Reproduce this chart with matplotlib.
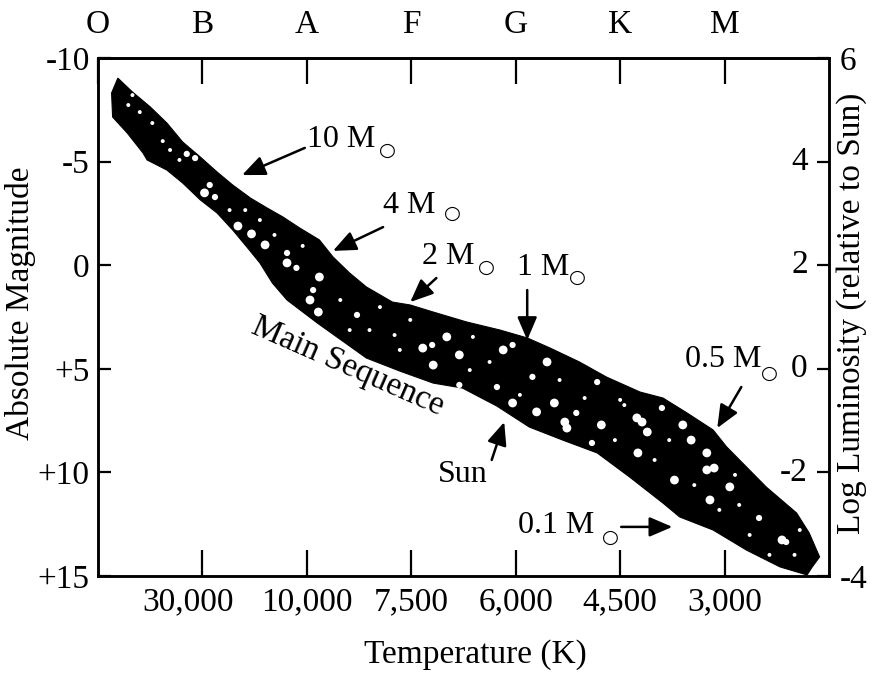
import matplotlib
matplotlib.use("Agg")
import matplotlib.pyplot as plt
from matplotlib.transforms import blended_transform_factory, ScaledTranslation

plt.rcParams['font.family'] = ['Liberation Serif', 'DejaVu Serif']

# ---------------- data ----------------
spectral_classes = ['O', 'B', 'A', 'F', 'G', 'K', 'M']
temp_labels = ['30,000', '10,000', '7,500', '6,000', '4,500', '3,000']
mag_ticks = [-10, -5, 0, 5, 10, 15]
mag_labels = ['-10', '-5', '0', '+5', '+10', '+15']
lum_ticks = [6, 4, 2, 0, -2, -4]

# main sequence band: upper edge (left -> right), then lower edge (right -> left)
upper_x = [0.19, 0.33, 0.50, 0.66, 0.81, 0.98, 1.14, 1.29, 1.46, 1.62, 1.77, 1.93,
           2.12, 2.25, 2.41, 2.57, 2.82, 2.99, 3.21, 3.53, 3.85, 4.11, 4.33, 4.61,
           4.87, 5.19, 5.41, 5.64, 5.89, 6.02, 6.21, 6.40, 6.69, 6.81, 6.91, 6.84, 6.79]
upper_mag = [-9.03, -8.36, -7.64, -6.86, -5.95, -5.22, -4.50, -3.87, -3.24, -2.76, -2.33, -1.80,
             -1.22, -0.40, 0.38, 1.05, 1.78, 1.92, 2.26, 2.74, 3.13, 3.51, 4.00, 4.67,
             5.40, 6.12, 6.41, 7.13, 7.95, 8.77, 9.74, 10.71, 11.96, 12.92, 14.08, 14.56, 14.95]
lower_x = [6.53, 6.21, 5.89, 5.57, 5.41, 5.09, 4.78, 4.45, 4.13, 3.82, 3.49, 3.21,
           2.89, 2.57, 2.10, 1.81, 1.67, 1.55, 1.45, 1.29, 1.14, 0.98, 0.81, 0.66,
           0.47, 0.43, 0.28, 0.14, 0.13]
lower_mag = [14.56, 13.75, 12.78, 12.15, 11.48, 10.22, 9.06, 8.44, 7.81, 6.80, 5.93, 5.69,
             5.11, 4.48, 2.79, 1.68, 0.86, -0.11, -0.73, -1.70, -2.52, -3.15, -3.97, -4.59,
             -5.08, -5.42, -6.38, -7.15, -8.31]

# individual stars (white dots) inside the band
star_x = [0.40, 0.52, 0.33, 0.62, 0.85, 0.93, 1.07, 1.02, 1.12, 1.34, 1.47, 1.60, 1.81, 1.81,
          1.96, 1.90, 2.12, 2.06, 2.03, 2.11, 2.48, 2.70, 3.34, 3.11, 3.20, 3.21, 3.46, 3.59,
          3.88, 3.97, 4.16, 3.97, 4.20, 3.46, 3.82, 4.30, 4.37, 4.58, 4.47, 4.49, 4.82, 4.73,
          4.78, 5.16, 5.21, 5.26, 5.17, 5.40, 5.60, 5.68, 5.83, 5.52, 5.83, 5.90, 6.05, 5.86,
          6.33, 6.55, 6.59, 6.72,
          0.29, 0.69, 1.26, 1.69, 2.32, 2.60, 2.84, 2.99, 3.56, 3.75, 4.04, 4.42, 4.66, 4.95,
          5.04, 5.33, 5.47, 5.71, 5.95, 6.14, 6.24, 6.43, 6.67, 6.10, 5.00, 2.89, 2.41, 1.55,
          0.78, 1.41]
star_mag = [-7.39, -6.86, -8.21, -5.99, -5.37, -5.17, -3.87, -3.49, -3.29, -1.89, -1.51, -0.98,
            -0.59, -0.11, -0.93, 0.13, 0.57, 1.20, 1.68, 2.26, 2.40, 2.02, 3.46, 4.00, 3.85,
            4.82, 4.33, 3.46, 4.09, 3.85, 5.39, 6.65, 7.08, 5.78, 5.88, 4.67, 6.65, 7.13, 7.57,
            7.86, 7.71, 8.58, 5.64, 7.37, 7.57, 8.05, 9.06, 6.89, 7.71, 8.44, 9.06, 10.37, 9.88,
            9.79, 10.70, 11.33, 12.20, 13.26, 13.36, 12.78,
            -7.73, -5.56, -2.66, -1.46, 1.68, 3.13, 3.37, 2.64, 5.06, 4.67, 6.26, 5.54, 6.41,
            8.44, 6.75, 9.40, 8.44, 10.61, 11.81, 11.57, 13.02, 13.98, 13.98, 10.12, 6.50, 4.09,
            3.13, -2.18, -5.08, -2.66]
star_size = [8, 8, 8, 8, 20, 20, 20, 40, 20, 40, 40, 40, 20, 40,
             8, 20, 40, 20, 40, 40, 20, 8, 40, 40, 20, 40, 40, 8,
             40, 20, 20, 40, 40, 20, 20, 40, 40, 20, 40, 40, 40, 20,
             20, 40, 40, 40, 40, 20, 40, 40, 40, 40, 40, 40, 40, 40,
             20, 40, 20, 8,
             8, 8, 8, 8, 8, 8, 8, 8, 8, 8, 8, 8, 8, 8,
             8, 8, 8, 8, 8, 8, 8, 8, 8, 8, 8, 8, 8, 8,
             8, 8]

# mass annotations
mass_labels = ['10 M', '4 M', '2 M', '1 M', '0.5 M', '0.1 M']
mass_text_x = [2.00, 2.73, 3.10, 4.01, 5.62, 4.02]
mass_text_mag = [-6.09, -2.86, -0.44, 0.09, 4.57, 12.54]
mass_sym_x = [2.77, 3.39, 3.72, 4.59, 6.43, 4.91]
mass_sym_mag = [-5.56, -2.52, 0.13, 0.57, 5.20, 13.16]
arrow_from_x = [1.98, 2.73, 3.24, 4.11, 6.16, 5.01]
arrow_from_mag = [-5.66, -1.84, 0.62, 1.20, 5.88, 12.63]
arrow_to_x = [1.38, 2.25, 2.99, 4.11, 5.93, 5.50]
arrow_to_mag = [-4.35, -0.69, 1.78, 3.61, 7.86, 12.63]

sun_text = (3.25, 10.08)
sun_arrow_from = (3.77, 9.40)
sun_arrow_to = (3.89, 7.57)

ms_label_pos = (2.36, 5.25)
ms_label_angle = -23.6

FS = 24      # axis / tick text
FA = 23      # annotation text

# ---------------- figure ----------------
fig = plt.figure(figsize=(8.75, 6.75), dpi=100)
ax = fig.add_axes([98 / 875, 1 - 576 / 675, 731 / 875, 518 / 675])
ax.set_xlim(0, 7)
ax.set_ylim(15, -10)

band_x = upper_x + lower_x
band_y = upper_mag + lower_mag
ax.fill(band_x, band_y, color='black', lw=0.8, zorder=2)
ax.scatter(star_x, star_mag, s=star_size, color='white', edgecolors='none', zorder=3)

# bottom temperature ticks
ax.set_xticks(range(1, 7))
ax.set_xticklabels(temp_labels)
ax.tick_params(axis='x', direction='in', length=19, width=1.6, labelsize=FS, pad=8)
first = ax.get_xticklabels()[0]
first.set_transform(first.get_transform() + ScaledTranslation(-0.14, 0, fig.dpi_scale_trans))

# left magnitude ticks
ax.set_yticks(mag_ticks)
ax.set_yticklabels(mag_labels)
ax.tick_params(axis='y', direction='in', length=9.5, width=1.6, labelsize=FS, pad=6)

for sp in ax.spines.values():
    sp.set_linewidth(1.8)

# top spectral classes
sec = ax.secondary_xaxis('top')
sec.set_xticks(range(0, 7))
sec.set_xticklabels(spectral_classes)
sec.tick_params(axis='x', direction='in', length=19, width=1.6, labelsize=FS, pad=13)
sec.spines['top'].set_linewidth(1.8)

# right luminosity axis
ax2 = ax.twinx()
ax2.set_ylim(-4, 6)
ax2.set_yticks(lum_ticks)
ax2.set_yticklabels([str(t) if t in (6, -4) else '' for t in lum_ticks])
ax2.tick_params(axis='y', direction='in', length=9, width=1.6, labelsize=FS, pad=8)
for sp in ax2.spines.values():
    sp.set_linewidth(1.8)
trans = blended_transform_factory(ax2.transAxes, ax2.transData)
for t in lum_ticks:
    if t not in (6, -4):
        ax2.text(0.971, t, str(t), transform=trans, ha='right', va='center', fontsize=FS)

# annotations
arrow_style = dict(arrowstyle='-|>,head_length=0.7,head_width=0.3', color='black', lw=1.8,
                   mutation_scale=20, shrinkA=0, shrinkB=0)
for lab, tx, ty, sx, sy, fx, fy, ex, ey in zip(mass_labels, mass_text_x, mass_text_mag,
                                               mass_sym_x, mass_sym_mag,
                                               arrow_from_x, arrow_from_mag,
                                               arrow_to_x, arrow_to_mag):
    ax.text(tx, ty, lab, ha='left', va='center', fontsize=FA, zorder=5)
    ax.text(sx, sy, '\u25CB', ha='center', va='center', fontsize=14,
            family=['DejaVu Sans'], zorder=5)
    ax.annotate('', xy=(ex, ey), xytext=(fx, fy), arrowprops=arrow_style, zorder=5)

ax.text(sun_text[0], sun_text[1], 'Sun', ha='left', va='center', fontsize=FA, zorder=5)
ax.annotate('', xy=sun_arrow_to, xytext=sun_arrow_from, arrowprops=arrow_style, zorder=5)

ax.text(ms_label_pos[0], ms_label_pos[1], 'Main Sequence', rotation=ms_label_angle,
        rotation_mode='anchor', ha='center', va='baseline', fontsize=FS, zorder=5)

# axis labels
fig.text(21 / 875, 1 - 303 / 675, 'Absolute Magnitude', rotation=90,
         ha='center', va='center', fontsize=FS)
fig.text(852 / 875, 1 - 313 / 675, 'Log Luminosity (relative to Sun)', rotation=90,
         ha='center', va='center', fontsize=FS)
fig.text(475 / 875, 1 - 655 / 675, 'Temperature (K)', ha='center', va='center', fontsize=FS)

fig.savefig('out.png', dpi=100)
